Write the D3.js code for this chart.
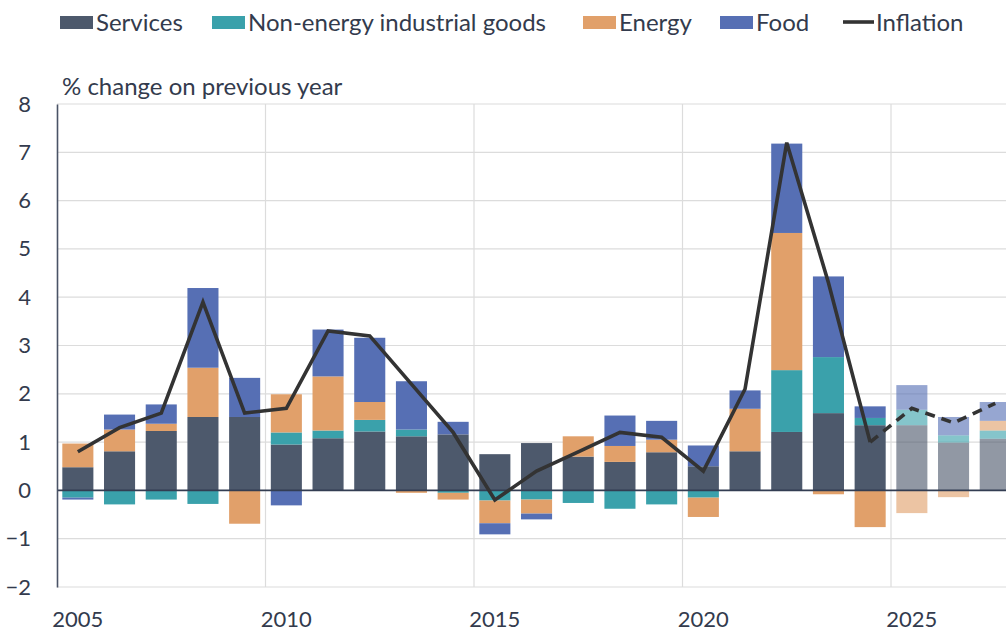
<!DOCTYPE html>
<html>
<head>
<meta charset="utf-8">
<script src="https://cdn.jsdelivr.net/npm/d3@7"></script>
<style>
  body { margin: 0; background: #fff; }
  svg { display: block; font-family: Lato, "Noto Sans", sans-serif; }
</style>
</head>
<body>
<div id="chart"></div>
<script>
// data
var years = [2005, 2006, 2007, 2008, 2009, 2010, 2011, 2012, 2013, 2014, 2015, 2016,
             2017, 2018, 2019, 2020, 2021, 2022, 2023, 2024, 2025, 2026, 2027];
var services = [0.48, 0.81, 1.23, 1.52, 1.52, 0.95, 1.08, 1.22, 1.12, 1.16, 0.75, 0.98,
                0.70, 0.59, 0.79, 0.50, 0.81, 1.21, 1.60, 1.35, 1.35, 0.99, 1.07];
var neig = [-0.15, -0.29, -0.19, -0.28, 0, 0.25, 0.16, 0.24, 0.14, -0.05, -0.21, -0.19,
            -0.26, -0.38, -0.29, -0.15, 0, 1.28, 1.16, 0.15, 0.32, 0.15, 0.17];
var energy = [0.49, 0.45, 0.15, 1.02, -0.69, 0.79, 1.12, 0.37, -0.05, -0.14, -0.47, -0.29,
              0.42, 0.33, 0.26, -0.40, 0.88, 2.84, -0.08, -0.76, -0.47, -0.14, 0.20];
var food = [-0.04, 0.31, 0.40, 1.65, 0.81, -0.31, 0.97, 1.33, 1.00, 0.26, -0.23, -0.12,
            0, 0.63, 0.39, 0.43, 0.38, 1.85, 1.67, 0.24, 0.51, 0.38, 0.39];
var inflation = [0.8, 1.3, 1.6, 3.9, 1.6, 1.7, 3.3, 3.2, 2.2, 1.2, -0.2, 0.4,
                 0.8, 1.2, 1.1, 0.4, 2.1, 7.2, 4.3, 1.0, 1.7, 1.4, 1.8];
var firstForecast = 2025;
var yTicks = [-2, -1, 0, 1, 2, 3, 4, 5, 6, 7, 8];
var xLabels = [2005, 2010, 2015, 2020, 2025];

var keys = ["services", "neig", "energy", "food"];
var names = {services: "Services", neig: "Non-energy industrial goods", energy: "Energy", food: "Food"};
var colors = {services: "#4d596c", neig: "#3aa1ab", energy: "#e1a06a", food: "#566fb4"};
var textColor = "#333b4d";

var width = 1006, height = 633;
var left = 57;

var rows = years.map(function(y, i) {
    return {year: y, services: services[i], neig: neig[i], energy: energy[i], food: food[i]};
});

var svg = d3.select("#chart").append("svg")
    .attr("width", width)
    .attr("height", height);

// band scale runs past the right edge, the last bar gets cut like in the original
var x = d3.scaleBand()
    .domain(years)
    .range([left, left + years.length * 41.7])
    .paddingInner(0.255)
    .paddingOuter(0.1275);

var y = d3.scaleLinear()
    .domain([-2, 8])
    .range([587, 104]);

var slotStart = function(yr) { return x(yr) - x.step() * x.paddingInner() / 2; };

// horizontal gridlines
svg.append("g")
    .selectAll("line")
    .data(yTicks.filter(function(t) { return t !== 0; }))
    .join("line")
    .attr("x1", left).attr("x2", width)
    .attr("y1", function(d) { return y(d); })
    .attr("y2", function(d) { return y(d); })
    .attr("stroke", "#dcdcdc")
    .attr("stroke-width", 1.2);

// vertical gridlines between categories every 5 years
svg.append("g")
    .selectAll("line")
    .data(xLabels.slice(1))
    .join("line")
    .attr("x1", function(d) { return slotStart(d); })
    .attr("x2", function(d) { return slotStart(d); })
    .attr("y1", y(8)).attr("y2", y(-2))
    .attr("stroke", "#dcdcdc")
    .attr("stroke-width", 1.2);

// stacked bars, negatives stacked below zero
var series = d3.stack()
    .keys(keys)
    .offset(d3.stackOffsetDiverging)(rows);

svg.append("g")
    .selectAll("g")
    .data(series)
    .join("g")
    .attr("fill", function(d) { return colors[d.key]; })
    .selectAll("rect")
    .data(function(d) { return d; })
    .join("rect")
    .attr("x", function(d) { return x(d.data.year); })
    .attr("width", x.bandwidth())
    .attr("y", function(d) { return y(Math.max(d[0], d[1])); })
    .attr("height", function(d) { return Math.abs(y(d[0]) - y(d[1])); })
    .attr("opacity", function(d) { return d.data.year >= firstForecast ? 0.62 : 1; });

// zero line
svg.append("line")
    .attr("x1", left).attr("x2", width)
    .attr("y1", y(0)).attr("y2", y(0))
    .attr("stroke", "#333d52")
    .attr("stroke-width", 1.6);

// y axis
var yAxis = svg.append("g")
    .attr("transform", "translate(" + left + ",0)")
    .call(d3.axisLeft(y).tickValues(yTicks).tickSize(0).tickPadding(26));
yAxis.select(".domain").attr("stroke", "#4a5366").attr("stroke-width", 1.6);
yAxis.selectAll("text")
    .attr("font-size", 22)
    .attr("font-family", "Lato, sans-serif")
    .attr("fill", textColor);

// x labels
var xAxis = svg.append("g")
    .attr("transform", "translate(0," + y(-2) + ")")
    .call(d3.axisBottom(x).tickValues(xLabels).tickSize(0).tickPadding(24));
xAxis.select(".domain").remove();
xAxis.selectAll("text")
    .attr("font-size", 22)
    .attr("font-family", "Lato, sans-serif")
    .attr("fill", textColor);

// inflation line, dashed for the forecast part
var pts = years.map(function(yr, i) { return {year: yr, v: inflation[i]}; });
var line = d3.line()
    .x(function(d) { return x(d.year) + x.bandwidth() / 2; })
    .y(function(d) { return y(d.v); });

svg.append("path")
    .datum(pts.filter(function(d) { return d.year < firstForecast; }))
    .attr("d", line)
    .attr("fill", "none")
    .attr("stroke", "#333333")
    .attr("stroke-width", 3.6)
    .attr("stroke-linejoin", "miter");

svg.append("path")
    .datum(pts.filter(function(d) { return d.year >= firstForecast - 1; }))
    .attr("d", line)
    .attr("fill", "none")
    .attr("stroke", "#333333")
    .attr("stroke-width", 3.6)
    .attr("stroke-dasharray", "10,7");

// axis title
svg.append("text")
    .attr("x", 62).attr("y", 95)
    .attr("font-size", 24)
    .attr("fill", textColor)
    .text("% change on previous year");

// legend
var legend = [
    {key: "services", x: 60},
    {key: "neig", x: 212},
    {key: "energy", x: 583},
    {key: "food", x: 720}
];
var lg = svg.append("g");
legend.forEach(function(d) {
    lg.append("rect")
        .attr("x", d.x).attr("y", 16)
        .attr("width", 33).attr("height", 13)
        .attr("fill", colors[d.key]);
    lg.append("text")
        .attr("x", d.x + 36).attr("y", 31)
        .attr("font-size", 24)
        .attr("fill", textColor)
        .text(names[d.key]);
});
lg.append("line")
    .attr("x1", 843).attr("x2", 874)
    .attr("y1", 22).attr("y2", 22)
    .attr("stroke", "#333333")
    .attr("stroke-width", 3.6);
lg.append("text")
    .attr("x", 876).attr("y", 31)
    .attr("font-size", 24)
    .attr("fill", textColor)
    .text("Inflation");
</script>
</body>
</html>
